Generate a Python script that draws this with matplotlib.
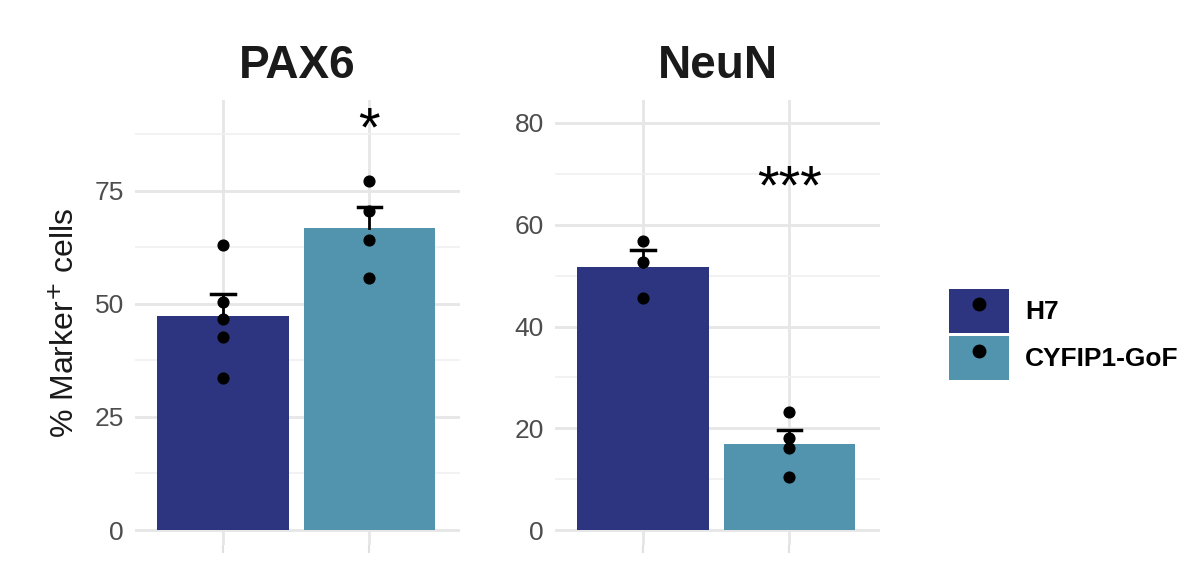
import numpy as np
import matplotlib
matplotlib.use('Agg')
import matplotlib.pyplot as plt
from matplotlib.lines import Line2D
from matplotlib.patches import Patch
from matplotlib.legend_handler import HandlerTuple

plt.rcParams['font.family'] = 'Liberation Sans'

groups = ['H7', 'CYFIP1-GoF']
colors = ['#2e3580', '#5294ad']

pax6_h7 = [63.0, 50.4, 46.7, 42.7, 33.6]
pax6_gof = [77.0, 70.4, 64.0, 55.6]
neun_h7 = [56.8, 52.7, 45.6]
neun_gof = [23.2, 18.1, 16.1, 10.4]

panels = [
    ('PAX6', [pax6_h7, pax6_gof], '*', 88, (-3.3, 95), [0, 25, 50, 75]),
    ('NeuN', [neun_h7, neun_gof], '***', 67, (-2.9, 84.5), [0, 20, 40, 60, 80]),
]

fig = plt.figure(figsize=(11.96, 5.62), dpi=100)
W, H = 1196, 562
boxes = [(135, 100, 325, 445), (555, 100, 325, 445)]

for (title, data, star, stary, ylim, yticks), (x0, y0, w, h) in zip(panels, boxes):
    ax = fig.add_axes([x0 / W, 1 - (y0 + h) / H, w / W, h / H])
    for i, vals in enumerate(data):
        v = np.array(vals)
        m = v.mean()
        se = v.std(ddof=1) / np.sqrt(len(v))
        ax.bar(i + 1, m, 0.9, color=colors[i], zorder=2)
        ax.plot([i + 1, i + 1], [m, m + se], color='black', lw=2, zorder=3)
        ax.plot([i + 0.92, i + 1.08], [m + se, m + se], color='black', lw=2.5, zorder=3)
        ax.scatter([i + 1] * len(v), v, color='black', s=60, zorder=4)
    ax.text(2, stary, star, ha='center', va='center', fontsize=40)
    ax.set_xlim(0.397, 2.62)
    ax.set_ylim(*ylim)
    ax.set_yticks(yticks)
    step = yticks[1] - yticks[0]
    ax.set_yticks(np.arange(step / 2, ylim[1], step), minor=True)
    ax.set_xticks([1, 2])
    ax.set_xticklabels([])
    ax.grid(True, which='major', color='#e6e6e6', lw=2, zorder=0)
    ax.grid(True, which='minor', axis='y', color='#f0f0f0', lw=1.2, zorder=0)
    ax.set_axisbelow(True)
    for s in ax.spines.values():
        s.set_visible(False)
    ax.tick_params(axis='y', which='both', length=0, labelsize=19, labelcolor='#4d4d4d', pad=8)
    ax.tick_params(axis='x', length=6, color='#e0e0e0', width=1.5)
    ax.set_title(title, fontsize=33, fontweight='bold', color='#1a1a1a', pad=16)
    if title == 'PAX6':
        ax.set_ylabel('% Marker$^{+}$ cells', fontsize=23, color='#1a1a1a', labelpad=10)

handles = [(Patch(facecolor=c), Line2D([], [], marker='o', color='black', ls='', markersize=9))
           for c in colors]
leg = fig.legend(handles, groups, loc='center left', bbox_to_anchor=(925 / W, 0.405),
                 frameon=False, fontsize=19, handlelength=2.3, handleheight=2.2,
                 labelspacing=0.1, handletextpad=0.6,
                 handler_map={tuple: HandlerTuple(ndivide=1)})
for t in leg.get_texts():
    t.set_fontweight('bold')

fig.savefig('out.png', dpi=100)
